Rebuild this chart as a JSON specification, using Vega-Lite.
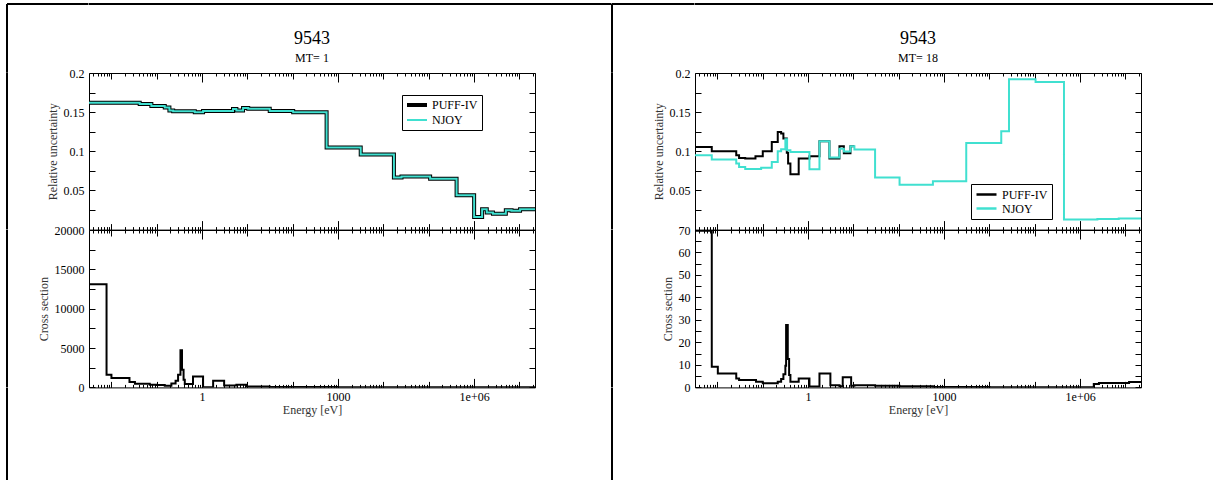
{
  "$schema": "https://vega.github.io/schema/vega-lite/v6.json",
  "padding": {"left": 6, "top": 3, "right": 0, "bottom": 0},
  "background": "white",
  "columns": 6,
  "spacing": 0,
  "bounds": "flush",
  "resolve": {"scale": {"color": "independent"}, "legend": {"color": "independent"}},
  "datasets": {
    "empty": [{}],
    "unc1": [
      {"s":"PUFF-IV","e":0.0032,"v":0.162},{"s":"PUFF-IV","e":0.042,"v":0.1605},{"s":"PUFF-IV","e":0.076,"v":0.158},{"s":"PUFF-IV","e":0.15,"v":0.156},{"s":"PUFF-IV","e":0.19,"v":0.152},{"s":"PUFF-IV","e":0.23,"v":0.151},{"s":"PUFF-IV","e":0.69,"v":0.1498},{"s":"PUFF-IV","e":1.05,"v":0.1515},{"s":"PUFF-IV","e":4.8,"v":0.154},{"s":"PUFF-IV","e":5.7,"v":0.152},{"s":"PUFF-IV","e":8.0,"v":0.1553},{"s":"PUFF-IV","e":10.4,"v":0.1545},{"s":"PUFF-IV","e":31,"v":0.1515},{"s":"PUFF-IV","e":102,"v":0.150},{"s":"PUFF-IV","e":557,"v":0.105},{"s":"PUFF-IV","e":3150,"v":0.0958},{"s":"PUFF-IV","e":17000,"v":0.0664},{"s":"PUFF-IV","e":25000,"v":0.0677},{"s":"PUFF-IV","e":107000,"v":0.065},{"s":"PUFF-IV","e":410000,"v":0.0438},{"s":"PUFF-IV","e":1000000,"v":0.016},{"s":"PUFF-IV","e":1500000,"v":0.026},{"s":"PUFF-IV","e":1900000,"v":0.0217},{"s":"PUFF-IV","e":2600000,"v":0.0204},{"s":"PUFF-IV","e":5000000,"v":0.0246},{"s":"PUFF-IV","e":6700000,"v":0.024},{"s":"PUFF-IV","e":10300000,"v":0.026},{"s":"PUFF-IV","e":22000000,"v":0.026},
      {"s":"NJOY","e":0.0032,"v":0.162},{"s":"NJOY","e":0.042,"v":0.1605},{"s":"NJOY","e":0.076,"v":0.158},{"s":"NJOY","e":0.15,"v":0.156},{"s":"NJOY","e":0.19,"v":0.152},{"s":"NJOY","e":0.23,"v":0.151},{"s":"NJOY","e":0.69,"v":0.1498},{"s":"NJOY","e":1.05,"v":0.1515},{"s":"NJOY","e":4.8,"v":0.154},{"s":"NJOY","e":5.7,"v":0.152},{"s":"NJOY","e":8.0,"v":0.1553},{"s":"NJOY","e":10.4,"v":0.1545},{"s":"NJOY","e":31,"v":0.1515},{"s":"NJOY","e":102,"v":0.150},{"s":"NJOY","e":557,"v":0.105},{"s":"NJOY","e":3150,"v":0.0958},{"s":"NJOY","e":17000,"v":0.0664},{"s":"NJOY","e":25000,"v":0.0677},{"s":"NJOY","e":107000,"v":0.065},{"s":"NJOY","e":410000,"v":0.0438},{"s":"NJOY","e":1000000,"v":0.016},{"s":"NJOY","e":1500000,"v":0.026},{"s":"NJOY","e":1900000,"v":0.0217},{"s":"NJOY","e":2600000,"v":0.0204},{"s":"NJOY","e":5000000,"v":0.0246},{"s":"NJOY","e":6700000,"v":0.024},{"s":"NJOY","e":10300000,"v":0.026},{"s":"NJOY","e":22000000,"v":0.026}
    ],
    "xs1": [
      {"e":0.0032,"v":13100},{"e":0.0078,"v":1620},{"e":0.01,"v":1190},{"e":0.025,"v":680},{"e":0.033,"v":470},{"e":0.07,"v":340},{"e":0.1,"v":290},{"e":0.15,"v":212},{"e":0.21,"v":510},{"e":0.26,"v":850},{"e":0.295,"v":1615},{"e":0.333,"v":4720},{"e":0.36,"v":2250},{"e":0.39,"v":980},{"e":0.415,"v":425},{"e":0.63,"v":1400},{"e":1.05,"v":20},{"e":1.75,"v":850},{"e":3.06,"v":255},{"e":5.7,"v":340},{"e":9.55,"v":130},{"e":31,"v":40},{"e":1000,"v":15},{"e":22000000,"v":15}
    ],
    "unc18": [
      {"s":"PUFF-IV","e":0.0032,"v":0.1055},{"s":"PUFF-IV","e":0.0075,"v":0.100},{"s":"PUFF-IV","e":0.026,"v":0.0949},{"s":"PUFF-IV","e":0.030,"v":0.0915},{"s":"PUFF-IV","e":0.041,"v":0.0907},{"s":"PUFF-IV","e":0.069,"v":0.0936},{"s":"PUFF-IV","e":0.1,"v":0.100},{"s":"PUFF-IV","e":0.158,"v":0.112},{"s":"PUFF-IV","e":0.214,"v":0.1247},{"s":"PUFF-IV","e":0.254,"v":0.1226},{"s":"PUFF-IV","e":0.285,"v":0.1162},{"s":"PUFF-IV","e":0.339,"v":0.098},{"s":"PUFF-IV","e":0.362,"v":0.0843},{"s":"PUFF-IV","e":0.407,"v":0.0706},{"s":"PUFF-IV","e":0.62,"v":0.0907},{"s":"PUFF-IV","e":1.07,"v":0.0936},{"s":"PUFF-IV","e":1.78,"v":0.1127},{"s":"PUFF-IV","e":2.95,"v":0.0907},{"s":"PUFF-IV","e":4.91,"v":0.1064},{"s":"PUFF-IV","e":6.14,"v":0.0975},{"s":"PUFF-IV","e":8.6,"v":0.1064},{"s":"PUFF-IV","e":10.5,"v":0.1064},
      {"s":"NJOY","e":0.0032,"v":0.0949},{"s":"NJOY","e":0.0075,"v":0.0894},{"s":"NJOY","e":0.026,"v":0.0843},{"s":"NJOY","e":0.030,"v":0.080},{"s":"NJOY","e":0.041,"v":0.0774},{"s":"NJOY","e":0.092,"v":0.079},{"s":"NJOY","e":0.158,"v":0.0864},{"s":"NJOY","e":0.214,"v":0.100},{"s":"NJOY","e":0.254,"v":0.1027},{"s":"NJOY","e":0.315,"v":0.1153},{"s":"NJOY","e":0.344,"v":0.1013},{"s":"NJOY","e":0.407,"v":0.099},{"s":"NJOY","e":1.07,"v":0.077},{"s":"NJOY","e":1.78,"v":0.1127},{"s":"NJOY","e":2.95,"v":0.092},{"s":"NJOY","e":4.91,"v":0.1034},{"s":"NJOY","e":6.14,"v":0.0996},{"s":"NJOY","e":8.6,"v":0.1064},{"s":"NJOY","e":10.5,"v":0.1022},{"s":"NJOY","e":30,"v":0.0664},{"s":"NJOY","e":104,"v":0.0574},{"s":"NJOY","e":566,"v":0.0617},{"s":"NJOY","e":3076,"v":0.1106},{"s":"NJOY","e":18200,"v":0.1255},{"s":"NJOY","e":27000,"v":0.192},{"s":"NJOY","e":104000,"v":0.1885},{"s":"NJOY","e":440000,"v":0.0128},{"s":"NJOY","e":2400000,"v":0.0135},{"s":"NJOY","e":7100000,"v":0.0142},{"s":"NJOY","e":22000000,"v":0.0142}
    ],
    "xs18": [
      {"e":0.0032,"v":69.7},{"e":0.0075,"v":9.2},{"e":0.0102,"v":6.2},{"e":0.026,"v":4.0},{"e":0.030,"v":3.3},{"e":0.071,"v":2.5},{"e":0.1,"v":1.9},{"e":0.214,"v":2.5},{"e":0.254,"v":3.7},{"e":0.285,"v":5.9},{"e":0.315,"v":9.6},{"e":0.327,"v":27.7},{"e":0.356,"v":12.6},{"e":0.381,"v":5.5},{"e":0.407,"v":2.5},{"e":0.62,"v":4.0},{"e":1.07,"v":0.45},{"e":1.78,"v":6.2},{"e":3.1,"v":1.0},{"e":4.91,"v":0.5},{"e":5.8,"v":4.5},{"e":8.9,"v":0.7},{"e":10.5,"v":1.0},{"e":30,"v":0.7},{"e":104,"v":0.5},{"e":566,"v":0.2},{"e":10000,"v":0.05},{"e":2000000,"v":1.5},{"e":2600000,"v":1.95},{"e":12000000,"v":2.4},{"e":22000000,"v":2.4}
    ]
  },
  "concat": [
    {"width":81.5,"height":68.7,"data":{"name":"empty"},"mark":{"type":"point","opacity":0},"encoding":{},"view":{"stroke":"black","strokeWidth":2,"strokeDash":[81.5,150.2,68.7,0]}},
    {"width":446,"height":68.7,"data":{"name":"empty"},"mark":{"type":"point","opacity":0},"encoding":{},"view":{"stroke":"black","strokeWidth":2,"strokeDash":[446,1200]}},
    {"width":76.5,"height":68.7,"data":{"name":"empty"},"mark":{"type":"point","opacity":0},"encoding":{},"view":{"stroke":"black","strokeWidth":2,"strokeDash":[76.5,1200]}},
    {"width":82.5,"height":68.7,"data":{"name":"empty"},"mark":{"type":"point","opacity":0},"encoding":{},"view":{"stroke":"black","strokeWidth":2,"strokeDash":[82.5,151.2,68.7,0]}},
    {"width":446,"height":68.7,"data":{"name":"empty"},"mark":{"type":"point","opacity":0},"encoding":{},"view":{"stroke":"black","strokeWidth":2,"strokeDash":[446,1200]}},
    {"width":72,"height":68.7,"data":{"name":"empty"},"mark":{"type":"point","opacity":0},"encoding":{},"view":{"stroke":"black","strokeWidth":2,"strokeDash":[72,1200]}},

    {"width":81.5,"height":156.6,"data":{"name":"empty"},"mark":{"type":"point","opacity":0},"encoding":{},"view":{"stroke":"black","strokeWidth":2,"strokeDash":[0,319.6,156.6,0]}},
    {
      "width":446,"height":156.6,
      "title":{"text":"9543","subtitle":"MT= 1"},
      "data":{"name":"unc1"},
      "layer":[
        {
          "transform":[{"filter":"datum.s === 'PUFF-IV'"}],
          "mark":{"type":"line","interpolate":"step-after","strokeWidth":4,"clip":true},
          "encoding":{
            "x":{"field":"e","type":"quantitative","scale":{"type":"log","domain":[0.0032,22000000],"nice":false},
              "axis":{"orient":"bottom","offset":0,"values":[0.004,0.005,0.006,0.007,0.008,0.009,0.01,0.02,0.03,0.04,0.05,0.06,0.07,0.08,0.09,0.1,0.2,0.3,0.4,0.5,0.6,0.7,0.8,0.9,1,2,3,4,5,6,7,8,9,10,20,30,40,50,60,70,80,90,100,200,300,400,500,600,700,800,900,1000,2000,3000,4000,5000,6000,7000,8000,9000,10000,20000,30000,40000,50000,60000,70000,80000,90000,100000,200000,300000,400000,500000,600000,700000,800000,900000,1000000,2000000,3000000,4000000,5000000,6000000,7000000,8000000,9000000,10000000,20000000],"tickSize":-9,"labels":false,"title":null,
                "tickDash":{"condition":[{"test":"abs(log(datum.value)/LN10 - round(log(datum.value)/LN10)) > 0.001","value":[3,20]},{"test":"abs(log(datum.value)/LN10/3 - round(log(datum.value)/LN10/3)) > 0.001","value":[6,20]}],"value":[9,0]}}},
            "y":{"field":"v","type":"quantitative","scale":{"domain":[0,0.2],"nice":false,"zero":false},
              "axis":{"orient":"left","offset":0,"values":[0,0.025,0.05,0.075,0.1,0.125,0.15,0.175,0.2],"tickSize":-6,"labelPadding":11,"format":"~g","labelExpr":"datum.value > 0 && abs(datum.value*20 - round(datum.value*20)) < 0.001 ? datum.label : ''","title":"Relative uncertainty","titlePadding":4}},
            "color":{"field":"s","type":"nominal","scale":{"domain":["PUFF-IV","NJOY"],"range":["black","#40E0D0"]},
              "legend":{"title":null,"orient":"none","direction":"vertical","legendX":313,"legendY":22,"symbolType":"M-1,0H3","symbolSize":100,"labelOffset":14,"rowPadding":1,"padding":4,"strokeColor":"black","fillColor":"white","encode":{"symbols":{"update":{"strokeWidth":{"signal":"datum.value === 'PUFF-IV' ? 4 : 2"}}}}}}
          }
        },
        {
          "transform":[{"filter":"datum.s === 'NJOY'"}],
          "mark":{"type":"line","interpolate":"step-after","strokeWidth":2,"clip":true},
          "encoding":{
            "x":{"field":"e","type":"quantitative","scale":{"type":"log","domain":[0.0032,22000000],"nice":false},
              "axis":{"orient":"top","offset":0,"values":[0.004,0.005,0.006,0.007,0.008,0.009,0.01,0.02,0.03,0.04,0.05,0.06,0.07,0.08,0.09,0.1,0.2,0.3,0.4,0.5,0.6,0.7,0.8,0.9,1,2,3,4,5,6,7,8,9,10,20,30,40,50,60,70,80,90,100,200,300,400,500,600,700,800,900,1000,2000,3000,4000,5000,6000,7000,8000,9000,10000,20000,30000,40000,50000,60000,70000,80000,90000,100000,200000,300000,400000,500000,600000,700000,800000,900000,1000000,2000000,3000000,4000000,5000000,6000000,7000000,8000000,9000000,10000000,20000000],"tickSize":-9,"labels":false,"title":null,
                "tickDash":{"condition":[{"test":"abs(log(datum.value)/LN10 - round(log(datum.value)/LN10)) > 0.001","value":[3,20]},{"test":"abs(log(datum.value)/LN10/3 - round(log(datum.value)/LN10/3)) > 0.001","value":[6,20]}],"value":[9,0]}}},
            "y":{"field":"v","type":"quantitative","scale":{"domain":[0,0.2],"nice":false,"zero":false},
              "axis":{"orient":"right","offset":0,"values":[0,0.025,0.05,0.075,0.1,0.125,0.15,0.175,0.2],"tickSize":-6,"labels":false,"title":null}},
            "color":{"field":"s","type":"nominal","scale":{"domain":["PUFF-IV","NJOY"],"range":["black","#40E0D0"]},
              "legend":{"title":null,"orient":"none","direction":"vertical","legendX":313,"legendY":22,"symbolType":"M-1,0H3","symbolSize":100,"labelOffset":14,"rowPadding":1,"padding":4,"strokeColor":"black","fillColor":"white","encode":{"symbols":{"update":{"strokeWidth":{"signal":"datum.value === 'PUFF-IV' ? 4 : 2"}}}}}}
          }
        }
      ],
      "resolve":{"axis":{"x":"independent","y":"independent"}}
    },
    {"width":76.5,"height":156.6,"data":{"name":"empty"},"mark":{"type":"point","opacity":0},"encoding":{},"view":{"stroke":null}},
    {"width":82.5,"height":156.6,"data":{"name":"empty"},"mark":{"type":"point","opacity":0},"encoding":{},"view":{"stroke":"black","strokeWidth":2,"strokeDash":[0,321.6,156.6,0]}},
    {
      "width":446,"height":156.6,
      "title":{"text":"9543","subtitle":"MT= 18"},
      "data":{"name":"unc18"},
      "layer":[
        {
          "transform":[{"filter":"datum.s === 'PUFF-IV'"}],
          "mark":{"type":"line","interpolate":"step-after","strokeWidth":2,"clip":true},
          "encoding":{
            "x":{"field":"e","type":"quantitative","scale":{"type":"log","domain":[0.0032,22000000],"nice":false},
              "axis":{"orient":"bottom","offset":0,"values":[0.004,0.005,0.006,0.007,0.008,0.009,0.01,0.02,0.03,0.04,0.05,0.06,0.07,0.08,0.09,0.1,0.2,0.3,0.4,0.5,0.6,0.7,0.8,0.9,1,2,3,4,5,6,7,8,9,10,20,30,40,50,60,70,80,90,100,200,300,400,500,600,700,800,900,1000,2000,3000,4000,5000,6000,7000,8000,9000,10000,20000,30000,40000,50000,60000,70000,80000,90000,100000,200000,300000,400000,500000,600000,700000,800000,900000,1000000,2000000,3000000,4000000,5000000,6000000,7000000,8000000,9000000,10000000,20000000],"tickSize":-9,"labels":false,"title":null,
                "tickDash":{"condition":[{"test":"abs(log(datum.value)/LN10 - round(log(datum.value)/LN10)) > 0.001","value":[3,20]},{"test":"abs(log(datum.value)/LN10/3 - round(log(datum.value)/LN10/3)) > 0.001","value":[6,20]}],"value":[9,0]}}},
            "y":{"field":"v","type":"quantitative","scale":{"domain":[0,0.2],"nice":false,"zero":false},
              "axis":{"orient":"left","offset":0,"values":[0,0.025,0.05,0.075,0.1,0.125,0.15,0.175,0.2],"tickSize":-6,"labelPadding":11,"format":"~g","labelExpr":"datum.value > 0 && abs(datum.value*20 - round(datum.value*20)) < 0.001 ? datum.label : ''","title":"Relative uncertainty","titlePadding":4}},
            "color":{"field":"s","type":"nominal","scale":{"domain":["PUFF-IV","NJOY"],"range":["black","#40E0D0"]},
              "legend":{"title":null,"orient":"none","direction":"vertical","legendX":276,"legendY":111,"symbolType":"M-1,0H3","symbolSize":100,"labelOffset":14,"rowPadding":1,"padding":4,"strokeColor":"black","fillColor":"white","encode":{"symbols":{"update":{"strokeWidth":{"value":2.5}}}}}}
          }
        },
        {
          "transform":[{"filter":"datum.s === 'NJOY'"}],
          "mark":{"type":"line","interpolate":"step-after","strokeWidth":2,"clip":true},
          "encoding":{
            "x":{"field":"e","type":"quantitative","scale":{"type":"log","domain":[0.0032,22000000],"nice":false},
              "axis":{"orient":"top","offset":0,"values":[0.004,0.005,0.006,0.007,0.008,0.009,0.01,0.02,0.03,0.04,0.05,0.06,0.07,0.08,0.09,0.1,0.2,0.3,0.4,0.5,0.6,0.7,0.8,0.9,1,2,3,4,5,6,7,8,9,10,20,30,40,50,60,70,80,90,100,200,300,400,500,600,700,800,900,1000,2000,3000,4000,5000,6000,7000,8000,9000,10000,20000,30000,40000,50000,60000,70000,80000,90000,100000,200000,300000,400000,500000,600000,700000,800000,900000,1000000,2000000,3000000,4000000,5000000,6000000,7000000,8000000,9000000,10000000,20000000],"tickSize":-9,"labels":false,"title":null,
                "tickDash":{"condition":[{"test":"abs(log(datum.value)/LN10 - round(log(datum.value)/LN10)) > 0.001","value":[3,20]},{"test":"abs(log(datum.value)/LN10/3 - round(log(datum.value)/LN10/3)) > 0.001","value":[6,20]}],"value":[9,0]}}},
            "y":{"field":"v","type":"quantitative","scale":{"domain":[0,0.2],"nice":false,"zero":false},
              "axis":{"orient":"right","offset":0,"values":[0,0.025,0.05,0.075,0.1,0.125,0.15,0.175,0.2],"tickSize":-6,"labels":false,"title":null}},
            "color":{"field":"s","type":"nominal","scale":{"domain":["PUFF-IV","NJOY"],"range":["black","#40E0D0"]},
              "legend":{"title":null,"orient":"none","direction":"vertical","legendX":276,"legendY":111,"symbolType":"M-1,0H3","symbolSize":100,"labelOffset":14,"rowPadding":1,"padding":4,"strokeColor":"black","fillColor":"white","encode":{"symbols":{"update":{"strokeWidth":{"value":2.5}}}}}}
          }
        }
      ],
      "resolve":{"axis":{"x":"independent","y":"independent"}}
    },
    {"width":72,"height":156.6,"data":{"name":"empty"},"mark":{"type":"point","opacity":0},"encoding":{},"view":{"stroke":null}},

    {"width":81.5,"height":157.4,"data":{"name":"empty"},"mark":{"type":"point","opacity":0},"encoding":{},"view":{"stroke":"black","strokeWidth":2,"strokeDash":[0,320.4,157.4,0]}},
    {
      "width":446,"height":157.4,
      "data":{"name":"xs1"},
      "layer":[
        {
          "mark":{"type":"line","interpolate":"step-after","strokeWidth":2,"color":"black","clip":true},
          "encoding":{
            "x":{"field":"e","type":"quantitative","scale":{"type":"log","domain":[0.0032,22000000],"nice":false},
              "axis":{"orient":"bottom","offset":0,"values":[0.004,0.005,0.006,0.007,0.008,0.009,0.01,0.02,0.03,0.04,0.05,0.06,0.07,0.08,0.09,0.1,0.2,0.3,0.4,0.5,0.6,0.7,0.8,0.9,1,2,3,4,5,6,7,8,9,10,20,30,40,50,60,70,80,90,100,200,300,400,500,600,700,800,900,1000,2000,3000,4000,5000,6000,7000,8000,9000,10000,20000,30000,40000,50000,60000,70000,80000,90000,100000,200000,300000,400000,500000,600000,700000,800000,900000,1000000,2000000,3000000,4000000,5000000,6000000,7000000,8000000,9000000,10000000,20000000],"tickSize":-9,"labelPadding":13,"labelExpr":"datum.value === 1 ? '1' : datum.value === 1000 ? '1000' : datum.value === 1000000 ? '1e+06' : ''","title":"Energy [eV]","titlePadding":2,
                "tickDash":{"condition":[{"test":"abs(log(datum.value)/LN10 - round(log(datum.value)/LN10)) > 0.001","value":[3,20]},{"test":"abs(log(datum.value)/LN10/3 - round(log(datum.value)/LN10/3)) > 0.001","value":[6,20]}],"value":[9,0]}}},
            "y":{"field":"v","type":"quantitative","scale":{"domain":[0,20000],"nice":false},
              "axis":{"orient":"left","offset":0,"values":[0,2500,5000,7500,10000,12500,15000,17500,20000],"tickSize":-6,"labelPadding":11,"format":"d","labelExpr":"datum.value % 5000 === 0 ? datum.label : ''","title":"Cross section","titlePadding":4}}
          }
        },
        {
          "mark":{"type":"line","opacity":0},
          "encoding":{
            "x":{"field":"e","type":"quantitative","scale":{"type":"log","domain":[0.0032,22000000],"nice":false},
              "axis":{"orient":"top","offset":0,"values":[0.004,0.005,0.006,0.007,0.008,0.009,0.01,0.02,0.03,0.04,0.05,0.06,0.07,0.08,0.09,0.1,0.2,0.3,0.4,0.5,0.6,0.7,0.8,0.9,1,2,3,4,5,6,7,8,9,10,20,30,40,50,60,70,80,90,100,200,300,400,500,600,700,800,900,1000,2000,3000,4000,5000,6000,7000,8000,9000,10000,20000,30000,40000,50000,60000,70000,80000,90000,100000,200000,300000,400000,500000,600000,700000,800000,900000,1000000,2000000,3000000,4000000,5000000,6000000,7000000,8000000,9000000,10000000,20000000],"tickSize":-9,"labels":false,"title":null,
                "tickDash":{"condition":[{"test":"abs(log(datum.value)/LN10 - round(log(datum.value)/LN10)) > 0.001","value":[3,20]},{"test":"abs(log(datum.value)/LN10/3 - round(log(datum.value)/LN10/3)) > 0.001","value":[6,20]}],"value":[9,0]}}},
            "y":{"field":"v","type":"quantitative","scale":{"domain":[0,20000],"nice":false},
              "axis":{"orient":"right","offset":0,"values":[0,2500,5000,7500,10000,12500,15000,17500,20000],"tickSize":-6,"labels":false,"title":null}}
          }
        }
      ],
      "resolve":{"axis":{"x":"independent","y":"independent"}}
    },
    {"width":76.5,"height":157.4,"data":{"name":"empty"},"mark":{"type":"point","opacity":0},"encoding":{},"view":{"stroke":null}},
    {"width":82.5,"height":157.4,"data":{"name":"empty"},"mark":{"type":"point","opacity":0},"encoding":{},"view":{"stroke":"black","strokeWidth":2,"strokeDash":[0,322.4,157.4,0]}},
    {
      "width":446,"height":157.4,
      "data":{"name":"xs18"},
      "layer":[
        {
          "mark":{"type":"line","interpolate":"step-after","strokeWidth":2,"color":"black","clip":true},
          "encoding":{
            "x":{"field":"e","type":"quantitative","scale":{"type":"log","domain":[0.0032,22000000],"nice":false},
              "axis":{"orient":"bottom","offset":0,"values":[0.004,0.005,0.006,0.007,0.008,0.009,0.01,0.02,0.03,0.04,0.05,0.06,0.07,0.08,0.09,0.1,0.2,0.3,0.4,0.5,0.6,0.7,0.8,0.9,1,2,3,4,5,6,7,8,9,10,20,30,40,50,60,70,80,90,100,200,300,400,500,600,700,800,900,1000,2000,3000,4000,5000,6000,7000,8000,9000,10000,20000,30000,40000,50000,60000,70000,80000,90000,100000,200000,300000,400000,500000,600000,700000,800000,900000,1000000,2000000,3000000,4000000,5000000,6000000,7000000,8000000,9000000,10000000,20000000],"tickSize":-9,"labelPadding":13,"labelExpr":"datum.value === 1 ? '1' : datum.value === 1000 ? '1000' : datum.value === 1000000 ? '1e+06' : ''","title":"Energy [eV]","titlePadding":2,
                "tickDash":{"condition":[{"test":"abs(log(datum.value)/LN10 - round(log(datum.value)/LN10)) > 0.001","value":[3,20]},{"test":"abs(log(datum.value)/LN10/3 - round(log(datum.value)/LN10/3)) > 0.001","value":[6,20]}],"value":[9,0]}}},
            "y":{"field":"v","type":"quantitative","scale":{"domain":[0,70],"nice":false},
              "axis":{"orient":"left","offset":0,"values":[0,5,10,15,20,25,30,35,40,45,50,55,60,65,70],"tickSize":-6,"labelPadding":11,"format":"d","labelExpr":"datum.value % 10 === 0 ? datum.label : ''","title":"Cross section","titlePadding":4}}
          }
        },
        {
          "mark":{"type":"line","opacity":0},
          "encoding":{
            "x":{"field":"e","type":"quantitative","scale":{"type":"log","domain":[0.0032,22000000],"nice":false},
              "axis":{"orient":"top","offset":0,"values":[0.004,0.005,0.006,0.007,0.008,0.009,0.01,0.02,0.03,0.04,0.05,0.06,0.07,0.08,0.09,0.1,0.2,0.3,0.4,0.5,0.6,0.7,0.8,0.9,1,2,3,4,5,6,7,8,9,10,20,30,40,50,60,70,80,90,100,200,300,400,500,600,700,800,900,1000,2000,3000,4000,5000,6000,7000,8000,9000,10000,20000,30000,40000,50000,60000,70000,80000,90000,100000,200000,300000,400000,500000,600000,700000,800000,900000,1000000,2000000,3000000,4000000,5000000,6000000,7000000,8000000,9000000,10000000,20000000],"tickSize":-9,"labels":false,"title":null,
                "tickDash":{"condition":[{"test":"abs(log(datum.value)/LN10 - round(log(datum.value)/LN10)) > 0.001","value":[3,20]},{"test":"abs(log(datum.value)/LN10/3 - round(log(datum.value)/LN10/3)) > 0.001","value":[6,20]}],"value":[9,0]}}},
            "y":{"field":"v","type":"quantitative","scale":{"domain":[0,70],"nice":false},
              "axis":{"orient":"right","offset":0,"values":[0,5,10,15,20,25,30,35,40,45,50,55,60,65,70],"tickSize":-6,"labels":false,"title":null}}
          }
        }
      ],
      "resolve":{"axis":{"x":"independent","y":"independent"}}
    },
    {"width":72,"height":157.4,"data":{"name":"empty"},"mark":{"type":"point","opacity":0},"encoding":{},"view":{"stroke":null}},

    {"width":81.5,"height":92.3,"data":{"name":"empty"},"mark":{"type":"point","opacity":0},"encoding":{},"view":{"stroke":"black","strokeWidth":2,"strokeDash":[0,255.3,92.3,0]}},
    {"width":446,"height":92.3,"data":{"name":"empty"},"mark":{"type":"point","opacity":0},"encoding":{},"view":{"stroke":null}},
    {"width":76.5,"height":92.3,"data":{"name":"empty"},"mark":{"type":"point","opacity":0},"encoding":{},"view":{"stroke":null}},
    {"width":82.5,"height":92.3,"data":{"name":"empty"},"mark":{"type":"point","opacity":0},"encoding":{},"view":{"stroke":"black","strokeWidth":2,"strokeDash":[0,257.3,92.3,0]}},
    {"width":446,"height":92.3,"data":{"name":"empty"},"mark":{"type":"point","opacity":0},"encoding":{},"view":{"stroke":null}},
    {"width":72,"height":92.3,"data":{"name":"empty"},"mark":{"type":"point","opacity":0},"encoding":{},"view":{"stroke":null}}
  ],
  "config": {
    "view": {"stroke": "black", "strokeWidth": 1},
    "axis": {"domain": false, "grid": false, "tickColor": "black", "tickWidth": 1, "labelFont": "Liberation Serif", "labelFontSize": 12, "labelColor": "black", "titleFont": "Liberation Serif", "titleFontSize": 12, "titleFontWeight": "normal", "titleColor": "#333", "labelOverlap": false, "labelFlush": false},
    "legend": {"labelFont": "Liberation Serif", "labelFontSize": 12, "labelColor": "black", "cornerRadius": 0},
    "title": {"font": "Liberation Serif", "fontSize": 18, "fontWeight": "normal", "color": "black", "subtitleFont": "Liberation Serif", "subtitleFontSize": 12, "subtitleColor": "black", "anchor": "middle", "frame": "group", "offset": 3, "subtitlePadding": 5}
  }
}
